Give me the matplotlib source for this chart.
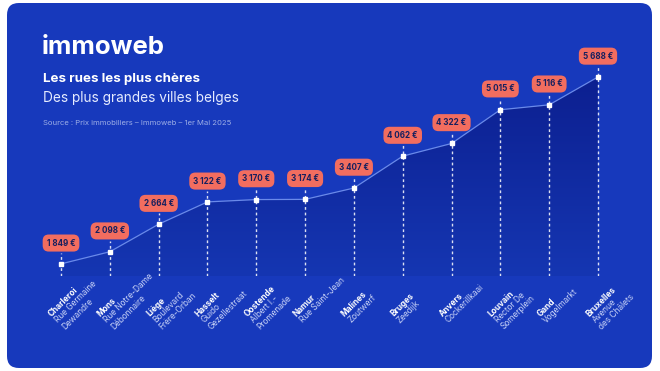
import matplotlib.pyplot as plt
import numpy as np
from matplotlib.patches import FancyBboxPatch, Polygon
from matplotlib.colors import LinearSegmentedColormap

plt.rcParams['font.family'] = ['Inter', 'DejaVu Sans']

# data
cities = ['Charleroi', 'Mons', 'Liège', 'Hasselt', 'Oostende', 'Namur',
          'Malines', 'Bruges', 'Anvers', 'Louvain', 'Gand', 'Bruxelles']
streets = ['Rue Germaine\nDewandre', 'Rue Notre-Dame\nDébonnaire', 'Boulevard\nFrère-Orban',
           'Guido\nGezellestraat', 'Albert I.-\nPromenade', 'Rue Saint-Jean',
           'Zoutwerf', 'Zeedijk', 'Cockerillkaai', 'Rector De\nSomerplein',
           'Vogelmarkt', 'Avenue\ndes Châlets']
prices = [1849, 2098, 2664, 3122, 3170, 3174, 3407, 4062, 4322, 5015, 5116, 5688]

CARD = '#1739BC'
CORAL = '#F26D5F'
NAVY = '#17205E'

W, H = 660, 371
fig = plt.figure(figsize=(W / 100, H / 100), dpi=100)
fig.patch.set_facecolor('white')

# blue card
card = FancyBboxPatch((7 / W, 3 / H), 645 / W, 365 / H,
                      boxstyle='round,pad=0,rounding_size=0.018',
                      transform=fig.transFigure, fc=CARD, ec='none', mutation_aspect=W / H,
                      zorder=-1)
fig.patches.append(card)

# header
fig.text(42 / W, 1 - 48 / H, 'immoweb', color='white', fontsize=18.5, fontweight='bold', va='center')
fig.text(43 / W, 1 - 79 / H, 'Les rues les plus chères', color='white', fontsize=9.6,
         fontweight='bold', va='center')
fig.text(43 / W, 1 - 98 / H, 'Des plus grandes villes belges', color='#E6ECFF', fontsize=9.8,
         va='center')
fig.text(43 / W, 1 - 123 / H, 'Source : Prix immobiliers – Immoweb – 1er Mai 2025',
         color='#9DAEE6', fontsize=5.5, va='center')

# chart area
ax = fig.add_axes([36.6 / W, (H - 276) / H, 585.8 / W, 246 / H])
ax.set_xlim(-0.5, len(prices) - 0.5)
ymin, ymax = 1600, 6653
ax.set_ylim(ymin, ymax)
ax.axis('off')
ax.patch.set_alpha(0)

x = np.arange(len(prices))

# gradient fill below the line
cmap = LinearSegmentedColormap.from_list('fill', ['#1536B2', '#0A1A88'])
grad = np.linspace(0, 1, 256).reshape(-1, 1)
im = ax.imshow(grad, extent=[-0.5, len(prices) - 0.5, ymin, ymax], origin='lower',
               aspect='auto', cmap=cmap, zorder=1)
verts = list(zip(x, prices)) + [(x[-1], ymin), (x[0], ymin)]
poly = Polygon(verts, closed=True, fc='none', ec='none', transform=ax.transData)
ax.add_patch(poly)
im.set_clip_path(poly)

# dashed guides
px_per_val = 246 / (ymax - ymin)
ax.vlines(x, ymin, np.array(prices) + 11 / px_per_val, colors='white', alpha=0.85,
          linewidth=1, linestyles=(0, (2, 2)), zorder=2)

ax.plot(x, prices, color='#6A8AEA', linewidth=0.9, zorder=3)
ax.plot(x, prices, 's', color='white', markersize=3, zorder=4)

for xi, v in zip(x, prices):
    txt = f'{v:,} €'.replace(',', ' ')
    ax.annotate(txt, (xi, v), xytext=(0, 15), textcoords='offset points',
                ha='center', va='center', fontsize=5.8, fontweight='bold', color=NAVY,
                bbox=dict(boxstyle='round,pad=0.5,rounding_size=0.75', fc=CORAL, ec='none'),
                zorder=5)

# rotated category labels
for xi, city, street in zip(x, cities, streets):
    ax.annotate(city, (xi, ymin), xytext=(-10, -26), textcoords='offset points',
                rotation=45, rotation_mode='anchor', ha='left', va='top',
                fontsize=6, fontweight='bold', color='white', annotation_clip=False)
    ax.annotate(street, (xi, ymin), xytext=(-10 + 4.6, -26 - 4.6), textcoords='offset points',
                rotation=45, rotation_mode='anchor', ha='left', va='top',
                fontsize=6, color='#C9D3F7', linespacing=1.05, annotation_clip=False)

fig.savefig('out.png', dpi=100)
